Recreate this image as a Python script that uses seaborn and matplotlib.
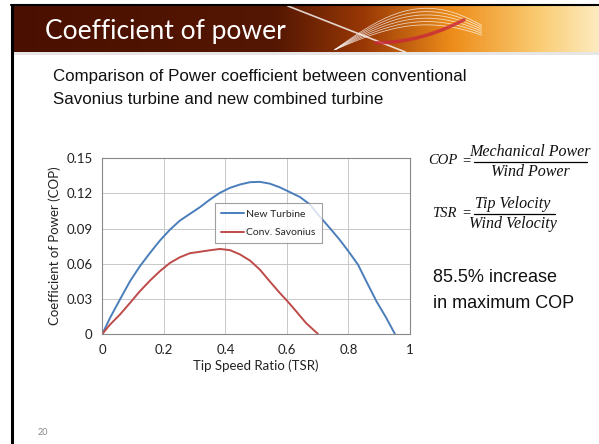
import numpy as np
import pandas as pd
import matplotlib
matplotlib.use("Agg")
import matplotlib.pyplot as plt
from matplotlib.lines import Line2D
from matplotlib.patches import Rectangle
import seaborn as sns

# ---- data ----
tsr_new = [0, 0.025, 0.057, 0.090, 0.122, 0.155, 0.187, 0.220, 0.252, 0.285,
           0.317, 0.350, 0.382, 0.415, 0.447, 0.480, 0.512, 0.544, 0.577,
           0.609, 0.642, 0.674, 0.706, 0.739, 0.771, 0.800, 0.831, 0.858,
           0.891, 0.923, 0.951]
cop_new = [0, 0.0137, 0.0293, 0.0450, 0.0578, 0.0692, 0.0797, 0.0891, 0.0968,
           0.1026, 0.1082, 0.1148, 0.1205, 0.1248, 0.1276, 0.1296, 0.1299,
           0.1284, 0.1252, 0.1212, 0.1170, 0.1108, 0.1005, 0.0906, 0.0806,
           0.0706, 0.0592, 0.0450, 0.0279, 0.0137, 0]
tsr_sav = [0, 0.025, 0.057, 0.090, 0.122, 0.155, 0.187, 0.220, 0.252, 0.285,
           0.317, 0.350, 0.382, 0.415, 0.447, 0.480, 0.512, 0.544, 0.577,
           0.600, 0.630, 0.662, 0.701]
cop_sav = [0, 0.0080, 0.0165, 0.0265, 0.0365, 0.0456, 0.0536, 0.0607, 0.0655,
           0.0690, 0.0702, 0.0715, 0.0726, 0.0716, 0.0680, 0.0627, 0.0550,
           0.0450, 0.0350, 0.0285, 0.0194, 0.0094, 0]
series_names = ["New Turbine", "Conv. Savonius"]
x_ticks = [0, 0.2, 0.4, 0.6, 0.8, 1]
x_tick_labels = ["0", "0.2", "0.4", "0.6", "0.8", "1"]
y_ticks = [0, 0.03, 0.06, 0.09, 0.12, 0.15]
y_tick_labels = ["0", "0.03", "0.06", "0.09", "0.12", "0.15"]

df = pd.concat([
    pd.DataFrame({"TSR": tsr_new, "COP": cop_new, "Series": series_names[0]}),
    pd.DataFrame({"TSR": tsr_sav, "COP": cop_sav, "Series": series_names[1]}),
], ignore_index=True)

sns.set_style("white")
plt.rcParams["font.family"] = ["Lato", "DejaVu Sans"]

W, H = 599, 444
fig = plt.figure(figsize=(W / 100, H / 100), dpi=100)
fig.patch.set_facecolor("white")

def fx(px):
    return px / W

def fy(py):
    return 1 - py / H

# ---- slide decoration ----
bg = fig.add_axes([fx(12), fy(52), fx(599 - 12), (52 - 6) / H])
bg.set_axis_off()
cols = np.linspace(0, 1, 400)
r = np.interp(cols, [0, 0.45, 0.6, 0.75, 0.9, 1.0], [0.29, 0.33, 0.60, 0.93, 0.98, 0.99])
g = np.interp(cols, [0, 0.45, 0.6, 0.75, 0.9, 1.0], [0.06, 0.09, 0.22, 0.55, 0.80, 0.92])
b = np.interp(cols, [0, 0.45, 0.6, 0.75, 0.9, 1.0], [0.00, 0.01, 0.02, 0.10, 0.45, 0.75])
img = np.stack([r, g, b], axis=-1)[None, :, :]
bg.imshow(img, aspect="auto", extent=[0, 1, 0, 1])
tt = np.linspace(0, 1, 100)
for k in range(6):
    bg.plot(0.55 + 0.25 * tt, 0.05 + 0.9 * np.sin(np.pi * tt * 0.8) * (0.6 + 0.08 * k),
            color="white", lw=0.6, alpha=0.7)
bg.plot(0.47 + 0.2 * tt, 1 - tt, color="white", lw=1.2, alpha=0.8)
bg.plot(0.62 + 0.15 * tt, 0.2 + 0.5 * tt ** 2, color="#c8283a", lw=2.5, alpha=0.8)
bg.set_xlim(0, 1)
bg.set_ylim(0, 1)

fig.add_artist(Line2D([fx(11), 1], [fy(5.5), fy(5.5)], color="black", lw=1.5))
fig.add_artist(Line2D([fx(12), fx(12)], [fy(5), 0], color="black", lw=2.2))
fig.add_artist(Rectangle((fx(13), fy(55)), 1, 3 / H, color="#e6e6e6", lw=0))

fig.text(fx(45), fy(31), "Coefficient of power", color="white", fontsize=19,
         va="center", ha="left")
fig.text(fx(53), fy(76), "Comparison of Power coefficient between conventional",
         fontsize=12.2, family="Liberation Sans", va="center", ha="left", color="#111111")
fig.text(fx(53), fy(100), "Savonius turbine and new combined turbine",
         fontsize=12.2, family="Liberation Sans", va="center", ha="left", color="#111111")
fig.text(fx(38), fy(432), "20", fontsize=6.5, color="#888888", va="center")

# ---- chart ----
ax = fig.add_axes([fx(102.3), fy(334), fx(410 - 102.3), (334 - 158.3) / H])
palette = {series_names[0]: "#4a7ebb", series_names[1]: "#be4b48"}
sns.lineplot(data=df, x="TSR", y="COP", hue="Series", palette=palette, ax=ax,
             lw=1.4, sort=False, estimator=None)
ax.set_xlim(0, 1)
ax.set_ylim(0, 0.15)
ax.set_xticks(x_ticks)
ax.set_xticklabels(x_tick_labels)
ax.set_yticks(y_ticks)
ax.set_yticklabels(y_tick_labels)
ax.grid(True, color="#c8c8c8", lw=0.7)
for s in ax.spines.values():
    s.set_color("#888888")
    s.set_linewidth(0.8)
ax.tick_params(labelsize=9.5, length=0, pad=7, colors="#222222")
ax.set_xlabel("Tip Speed Ratio (TSR)", fontsize=9.5, labelpad=3, color="#222222")
ax.set_ylabel("Coefficient of Power (COP)", fontsize=9.5, labelpad=4, color="#222222")
leg = ax.legend(loc="upper left", bbox_to_anchor=(fx(215), fy(203)),
                bbox_transform=fig.transFigure, fontsize=7.5, frameon=True,
                fancybox=False, handlelength=2.2, handletextpad=0.2,
                borderpad=0.6, labelspacing=0.9, borderaxespad=0)
leg.get_frame().set_edgecolor("#888888")
leg.get_frame().set_linewidth(0.8)

# ---- formulas ----
serif = dict(family="Liberation Serif", style="italic", fontsize=11.5, color="#111111")
small = dict(family="Liberation Serif", style="italic", fontsize=10.5, color="#111111")
upright = dict(family="Liberation Serif", fontsize=10.5, color="#111111")
fig.text(fx(428), fy(161), "COP", ha="left", va="center", **small)
fig.text(fx(466), fy(161), "=", ha="center", va="center", **upright)
fig.text(fx(530), fy(152), "Mechanical Power", ha="center", va="center", **serif)
fig.text(fx(530), fy(172), "Wind Power", ha="center", va="center", **serif)
fig.add_artist(Line2D([fx(474), fx(587)], [fy(162), fy(162)], color="black", lw=0.9))

fig.text(fx(432), fy(213), "TSR", ha="left", va="center", **small)
fig.text(fx(466), fy(213), "=", ha="center", va="center", **upright)
fig.text(fx(513), fy(204), "Tip Velocity", ha="center", va="center", **serif)
fig.text(fx(513), fy(224), "Wind Velocity", ha="center", va="center", **serif)
fig.add_artist(Line2D([fx(474), fx(555)], [fy(214), fy(214)], color="black", lw=0.9))

fig.text(fx(433), fy(277), "85.5% increase", family="Liberation Sans",
         fontsize=13, ha="left", va="center", color="#111111")
fig.text(fx(433), fy(303), "in maximum COP", family="Liberation Sans",
         fontsize=13, ha="left", va="center", color="#111111")

fig.savefig("out.png", dpi=100)
